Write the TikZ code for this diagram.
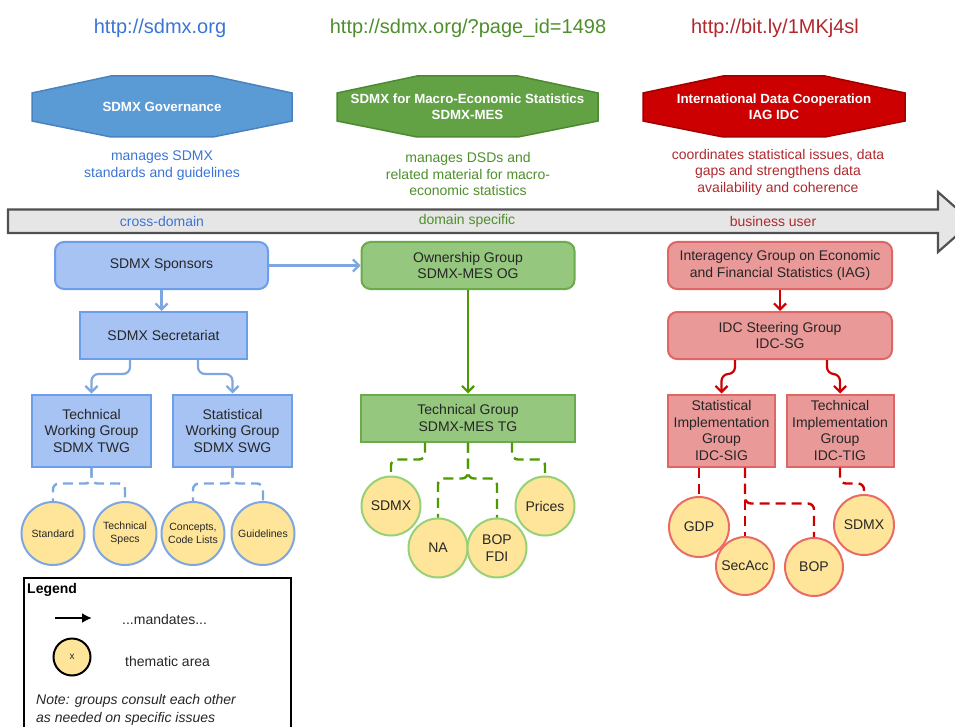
\documentclass[tikz,border=0pt]{standalone}
\usepackage{fontspec}
\setmainfont{Liberation Sans}
\usetikzlibrary{arrows.meta,calc}
\definecolor{hexBfill}{HTML}{5B9BD5}
\definecolor{hexBdraw}{HTML}{4A82C0}
\definecolor{hexGfill}{HTML}{62A245}
\definecolor{hexGdraw}{HTML}{4B8A2E}
\definecolor{hexRfill}{HTML}{CC0000}
\definecolor{hexRdraw}{HTML}{A00000}
\definecolor{boxBfill}{HTML}{A6C3F4}
\definecolor{boxBdraw}{HTML}{6D9EEB}
\definecolor{boxGfill}{HTML}{95C77E}
\definecolor{boxGdraw}{HTML}{6AAB4C}
\definecolor{boxRfill}{HTML}{EA9999}
\definecolor{boxRdraw}{HTML}{E06666}
\definecolor{cfill}{HTML}{FFE599}
\definecolor{cBdraw}{HTML}{7EA6E0}
\definecolor{cGdraw}{HTML}{97D077}
\definecolor{cRdraw}{HTML}{EA6B66}
\definecolor{lnB}{HTML}{7EA6E0}
\definecolor{lnG}{HTML}{4D9900}
\definecolor{lnR}{HTML}{CC0000}
\definecolor{txB}{HTML}{3A74D6}
\definecolor{txG}{HTML}{4E8F2C}
\definecolor{txR}{HTML}{B0282D}
\definecolor{txK}{HTML}{262626}
\definecolor{arrfill}{HTML}{E6E6E6}
\definecolor{arrdraw}{HTML}{505050}
\begin{document}
\begin{tikzpicture}[x=1pt,y=-1pt,
  t14/.style={font=\fontsize{14}{16.5}\selectfont},
  url/.style={font=\fontsize{20}{24}\selectfont},
  hextxt/.style={font=\bfseries\fontsize{13.3}{16}\selectfont, text=white, align=center},
  desc/.style={font=\fontsize{14}{16.5}\selectfont, align=center},
  box/.style={draw, line width=2pt, inner sep=0pt, align=center, text=txK, font=\fontsize{14}{16.5}\selectfont},
  rbox/.style={box, rounded corners=9pt},
  thema/.style={circle, draw, line width=2pt, fill=cfill, inner sep=0pt, align=center, text=txK},
  barrow/.style={line width=2.2pt, -{Straight Barb[length=6pt,width=12pt]}, rounded corners=7pt},
  dashline/.style={line width=2.4pt, dash pattern=on 10pt off 6pt, rounded corners=6pt}
]
\useasboundingbox (0,0) rectangle (955,727);

% URLs
\node[url, text=txB] (urlA) at (160,28) {http://sdmx.org};
\node[url, text=txG] (urlB) at (468,28) {http://sdmx.org/?page\_id=1498};
\node[url, text=txR] (urlC) at (775,28) {http://bit.ly/1MKj4sl};

% hexagons
\draw[fill=hexBfill, draw=hexBdraw, line width=1.5pt] (32,93) -- (111,76) -- (213,76) -- (292,93) -- (292,121) -- (213,137) -- (111,137) -- (32,121) -- cycle;
\draw[fill=hexGfill, draw=hexGdraw, line width=1.5pt] (337,93) -- (417,76) -- (518,76) -- (598,93) -- (598,121) -- (518,137) -- (417,137) -- (337,121) -- cycle;
\draw[fill=hexRfill, draw=hexRdraw, line width=1.5pt] (643,93) -- (723,76) -- (825,76) -- (905,93) -- (905,121) -- (825,137) -- (723,137) -- (643,121) -- cycle;
\node[hextxt] (hexA) at (162,106.5) {SDMX Governance};
\node[hextxt] (hexB) at (467.5,106.5) {SDMX for Macro-Economic Statistics\\SDMX-MES};
\node[hextxt] (hexC) at (774,106.5) {International Data Cooperation\\IAG IDC};

% descriptions
\node[desc, text=txB] (descA) at (162,165.5) {manages SDMX\\standards and guidelines};
\node[desc, text=txG] (descB) at (468,174) {manages DSDs and\\related material for macro-\\economic statistics};
\node[desc, text=txR] (descC) at (778,172) {coordinates statistical issues, data\\gaps and strengthens data\\availability and coherence};

% big arrow
\draw[fill=arrfill, draw=arrdraw, line width=2.2pt, line join=miter] (8,209.5) -- (938,209.5) -- (938,192) -- (972,222) -- (938,252) -- (938,233) -- (8,233) -- cycle;
\node[t14, text=txB] (labA) at (162,221) {cross-domain};
\node[t14, text=txG] (labB) at (467,221) {domain specific};
\node[t14, text=txR] (labC) at (773,221) {business user};

% blue column
\node[rbox, fill=boxBfill, draw=boxBdraw, minimum width=213pt, minimum height=47pt] (spons) at (161.5,265.5) {SDMX Sponsors};
\node[box, fill=boxBfill, draw=boxBdraw, minimum width=167pt, minimum height=47pt] (secr) at (163.5,335.5) {SDMX Secretariat};
\node[box, fill=boxBfill, draw=boxBdraw, minimum width=119pt, minimum height=72pt] (twg) at (91.5,430.5) {Technical\\Working Group\\SDMX TWG};
\node[box, fill=boxBfill, draw=boxBdraw, minimum width=119pt, minimum height=72pt] (swg) at (232.5,430.5) {Statistical\\Working Group\\SDMX SWG};
\node[thema, draw=cBdraw, minimum size=63pt, font=\fontsize{10.5}{12.5}\selectfont] (c1) at (53,533.5) {Standard};
\node[thema, draw=cBdraw, minimum size=63pt, font=\fontsize{10.5}{12.5}\selectfont] (c2) at (125,533.5) {Technical\\Specs};
\node[thema, draw=cBdraw, minimum size=63pt, font=\fontsize{10.5}{12.5}\selectfont] (c3) at (193,533.5) {Concepts,\\Code Lists};
\node[thema, draw=cBdraw, minimum size=63pt, font=\fontsize{10.5}{12.5}\selectfont] (c4) at (263,533.5) {Guidelines};

% green column
\node[rbox, fill=boxGfill, draw=boxGdraw, minimum width=213pt, minimum height=47pt] (og) at (468,265.5) {Ownership Group\\SDMX-MES OG};
\node[box, fill=boxGfill, draw=boxGdraw, minimum width=214pt, minimum height=47pt] (tg) at (468,418) {Technical Group\\SDMX-MES TG};
\node[thema, draw=cGdraw, minimum size=59pt, font=\fontsize{14}{16.5}\selectfont] (g1) at (391,506) {SDMX};
\node[thema, draw=cGdraw, minimum size=59pt, font=\fontsize{14}{16.5}\selectfont] (g2) at (438,548) {NA};
\node[thema, draw=cGdraw, minimum size=59pt, font=\fontsize{14}{16.5}\selectfont] (g3) at (497,548) {BOP\\FDI};
\node[thema, draw=cGdraw, minimum size=59pt, font=\fontsize{14}{16.5}\selectfont] (g4) at (545,506) {Prices};

% red column
\node[rbox, fill=boxRfill, draw=boxRdraw, minimum width=224pt, minimum height=47pt] (iag) at (780,265.5) {Interagency Group on Economic\\and Financial Statistics (IAG)};
\node[rbox, fill=boxRfill, draw=boxRdraw, minimum width=224pt, minimum height=47pt] (sg) at (780,335.5) {IDC Steering Group\\IDC-SG};
\node[box, fill=boxRfill, draw=boxRdraw, minimum width=107pt, minimum height=72pt] (sig) at (721.5,430.5) {Statistical\\Implementation\\Group\\IDC-SIG};
\node[box, fill=boxRfill, draw=boxRdraw, minimum width=107pt, minimum height=72pt] (tig) at (840,430.5) {Technical\\Implementation\\Group\\IDC-TIG};
\node[thema, draw=cRdraw, minimum size=60pt, font=\fontsize{14}{16.5}\selectfont] (r1) at (699,527) {GDP};
\node[thema, draw=cRdraw, minimum size=58pt, font=\fontsize{14}{16.5}\selectfont] (r2) at (745,566) {SecAcc};
\node[thema, draw=cRdraw, minimum size=58pt, font=\fontsize{14}{16.5}\selectfont] (r3) at (814,567) {BOP};
\node[thema, draw=cRdraw, minimum size=60pt, font=\fontsize{14}{16.5}\selectfont] (r4) at (864,525) {SDMX};

% blue connectors
\draw[barrow, draw=lnB] (spons.south) -- (spons.south |- secr.north);
\draw[barrow, draw=lnB] ([xshift=-33.5pt]secr.south) -- ++(0,14) -| (twg.north);
\draw[barrow, draw=lnB] ([xshift=34.5pt]secr.south) -- ++(0,14) -| (swg.north);
\draw[barrow, draw=lnB] (spons.east) -- (og.west);
\draw[dashline, draw=lnB] (twg.south) -- ++(0,16) -| (c1.north);
\draw[dashline, draw=lnB] (twg.south) -- ++(0,16) -| (c2.north);
\draw[dashline, draw=lnB] (swg.south) -- ++(0,16) -| (c3.north);
\draw[dashline, draw=lnB] (swg.south) -- ++(0,16) -| (c4.north);

% green connectors
\draw[barrow, draw=lnG] (og.south) -- (tg.north);
\draw[dashline, draw=lnG] ([xshift=-43pt]tg.south) -- ++(0,17) -| (g1.north);
\draw[dashline, draw=lnG] (tg.south) -- ++(0,36) -| (g2.north);
\draw[dashline, draw=lnG] (tg.south) -- ++(0,36) -| (g3.north);
\draw[dashline, draw=lnG] ([xshift=44pt]tg.south) -- ++(0,17) -| (g4.north);

% red connectors
\draw[barrow, draw=lnR] (iag.south) -- (sg.north);
\draw[barrow, draw=lnR] ([xshift=-45pt]sg.south) -- ++(0,14) -| (sig.north);
\draw[barrow, draw=lnR] ([xshift=47pt]sg.south) -- ++(0,14) -| (tig.north);
\draw[dashline, draw=lnR] (r1.north |- sig.south) -- (r1.north);
\draw[dashline, draw=lnR] (r2.north |- sig.south) -- (r2.north);
\draw[dashline, draw=lnR] (r2.north |- sig.south) -- ++(0,36) -| (r3.north);
\draw[dashline, draw=lnR] (tig.south) -- ++(0,16) -| (r4.north);

% legend
\node[draw=black, line width=2pt, minimum width=267pt, minimum height=165pt, inner sep=0pt] (legend) at (157.5,660.5) {};
\node[anchor=west, font=\bfseries\fontsize{14}{16.5}\selectfont, text=black, inner sep=0pt] (legT) at (27,590) {Legend};
\coordinate (la) at (55,618);
\coordinate (lb) at (92,618);
\draw[line width=2.4pt, -{Latex[length=10pt,width=10pt]}] (la) -- (lb);
\node[anchor=west, t14, text=txK, inner sep=0pt] (legM) at (122,619) {...mandates...};
\node[thema, draw=black, minimum size=37pt, font=\fontsize{10}{12}\selectfont] (legC) at (72,657) {x};
\node[anchor=west, t14, text=txK, inner sep=0pt] (legA) at (125,661) {thematic area};
\node[anchor=west, align=left, font=\itshape\fontsize{14}{18.5}\selectfont, text=txK, inner sep=0pt] (legN) at (36,710) {Note: groups consult each other\\as needed on specific issues};
\end{tikzpicture}
\end{document}
